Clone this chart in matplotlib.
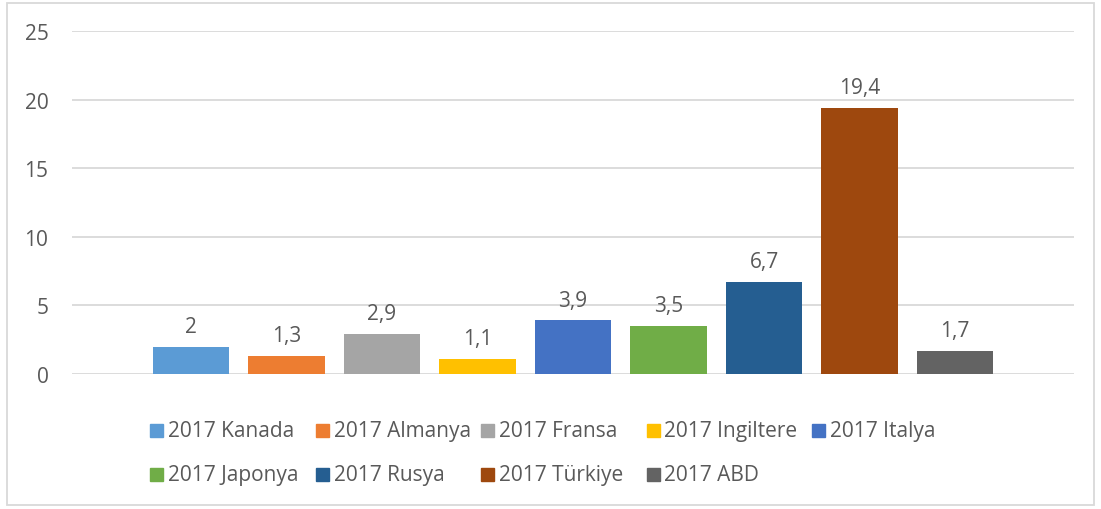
import matplotlib
matplotlib.use("Agg")
import matplotlib.pyplot as plt
from matplotlib.patches import Rectangle

countries = ["2017 Kanada", "2017 Almanya", "2017 Fransa", "2017 Ingiltere", "2017 Italya",
             "2017 Japonya", "2017 Rusya", "2017 Türkiye", "2017 ABD"]
values = [2, 1.3, 2.9, 1.1, 3.9, 3.5, 6.7, 19.4, 1.7]
colors = ["#5B9BD5", "#ED7D31", "#A5A5A5", "#FFC000", "#4472C4",
          "#70AD47", "#255E91", "#9E480E", "#636363"]
yticks = [0, 5, 10, 15, 20, 25]

plt.rcParams["font.family"] = ["Open Sans", "DejaVu Sans"]
txt = "#595959"
fs = 15

W, H = 1101, 510
fig = plt.figure(figsize=(W / 100, H / 100), dpi=100)
ax = fig.add_axes([72 / W, (H - 375) / H, (1074 - 72) / W, (375 - 32) / H])

x = list(range(len(values)))
ax.bar(x, values, width=0.796, color=colors, zorder=3)
for xi, v in zip(x, values):
    ax.annotate(f"{v:g}".replace(".", ","), (xi, v), xytext=(0, 7), textcoords="offset points",
                ha="center", va="bottom", fontsize=fs, color=txt)

ax.set_xlim(-1.246, len(values) - 1 + 1.246)
ax.set_ylim(0, 25)
ax.set_yticks(yticks)
ax.set_xticks([])
ax.yaxis.grid(True, color="#D9D9D9", linewidth=1.3, zorder=0)
ax.tick_params(axis="y", length=0, pad=17, labelsize=fs, labelcolor=txt)
for s in ax.spines.values():
    s.set_visible(False)

# legend, laid out like the Excel one: fixed column width, two rows
col_w, row_y = 165.5, [431, 475]
for i, (name, c) in enumerate(zip(countries, colors)):
    r, k = divmod(i, 5)
    x0 = 150 + k * col_w
    y0 = row_y[r]
    fig.patches.append(Rectangle((x0 / W, (H - y0 - 7) / H), 13 / W, 13 / H,
                                 transform=fig.transFigure, color=c))
    fig.text((x0 + 18) / W, (H - y0 - 1) / H, name, ha="left", va="center",
             fontsize=fs, color=txt)

fig.patches.append(Rectangle((7 / W, 4 / H), (1094 - 7) / W, (506 - 4) / H,
                             transform=fig.transFigure, fill=False,
                             edgecolor="#D9D9D9", linewidth=1.3))

fig.savefig("out.png", dpi=100, facecolor="white")
